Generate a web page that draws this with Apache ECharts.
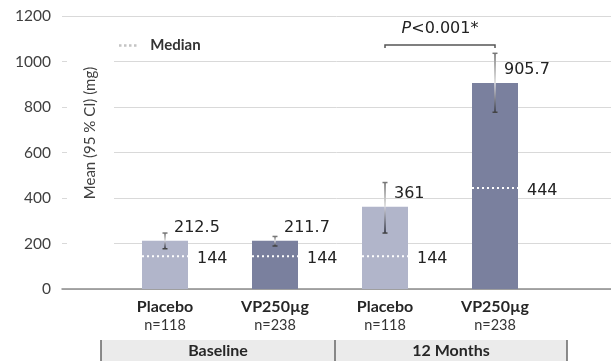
<!DOCTYPE html>
<html>
<head>
<meta charset="utf-8">
<script src="https://cdn.jsdelivr.net/npm/echarts@6/dist/echarts.min.js"></script>
<style>
  html, body { margin: 0; padding: 0; background: #fff; }
  #chart { width: 611px; height: 361px; }
</style>
</head>
<body>
<div id="chart"></div>
<script>
// Treatment arms, in plotting order
const groups = ['Placebo', 'VP250µg', 'Placebo', 'VP250µg'];
const sampleSizes = ['n=118', 'n=238', 'n=118', 'n=238'];
const periods = ['Baseline', '12 Months'];

// Mean with 95 % CI, and median (mg)
const means = [212.5, 211.7, 361, 905.7];
const ciLower = [177, 189, 246, 777];
const ciUpper = [246, 231, 468, 1036];
const medians = [144, 144, 144, 444];

// Value axis
const yMin = 0, yMax = 1200, yStep = 200;

// Comparison between the two 12-month arms
const comparison = { from: 2, to: 3, level: 1073, text: 'P<0.001*' };

const armColors = ['#b1b5ca', '#7a809e', '#b1b5ca', '#7a809e'];
const numFont = '"DejaVu Sans", sans-serif';
const txtFont = 'Lato, "Open Sans", sans-serif';
const BAR_W = 46;

const chart = echarts.init(document.getElementById('chart'));

const option = {
  animation: false,
  backgroundColor: '#fff',
  grid: [
    { left: 110, right: 61, top: 16, bottom: 72 },   // bars
    { left: 62, right: 0, top: 16, bottom: 72 }      // full-width frame
  ],
  legend: {
    left: 114, top: 33,
    itemWidth: 19, itemHeight: 2.5,
    textStyle: { fontFamily: txtFont, fontSize: 15, fontWeight: 'bold', color: '#333', padding: [0, 0, 0, 8] },
    data: [{
      name: 'Median',
      icon: 'path://M0,0h3v3h-3zM6,0h3v3h-3zM12,0h3v3h-3zM18,0h3v3h-3z',
      itemStyle: { color: '#c4c4c4' }
    }],
    selectedMode: false
  },
  xAxis: [
    {
      gridIndex: 0, type: 'category', data: groups,
      axisLine: { show: false }, axisTick: { show: false },
      axisLabel: {
        margin: 8,
        formatter: (v, i) => '{g|' + v + '}\n{n|' + sampleSizes[i] + '}',
        rich: {
          g: { fontFamily: txtFont, fontSize: 16, fontWeight: 'bold', color: '#262626', lineHeight: 19 },
          n: { fontFamily: txtFont, fontSize: 14.5, color: '#333', lineHeight: 19 }
        }
      }
    },
    {
      gridIndex: 1, type: 'value', min: 0, max: 1, show: true,
      axisLine: { show: true, lineStyle: { color: '#8c8c8c', width: 1.5 } },
      axisTick: { show: false }, axisLabel: { show: false }, splitLine: { show: false }
    }
  ],
  yAxis: [
    { gridIndex: 0, type: 'value', min: yMin, max: yMax, interval: yStep, show: false },
    {
      gridIndex: 1, type: 'value', min: yMin, max: yMax, interval: yStep,
      axisLine: { show: false }, axisTick: { show: false },
      axisLabel: { margin: 11, fontFamily: txtFont, fontSize: 15.5, color: '#404040', formatter: v => String(v) },
      splitLine: { lineStyle: { color: '#d9d9d9', width: 1 } }
    }
  ],
  graphic: [
    // break in the grid lines behind the axis title
    { type: 'rect', z: 1, shape: { x: 67, y: 52, width: 47, height: 200 }, style: { fill: '#fff' } },
    {
      type: 'text', z: 5, x: 90, y: 133, rotation: Math.PI / 2,
      style: { text: 'Mean (95 % CI) (mg)', fontFamily: txtFont, fontSize: 15, fill: '#404040',
               align: 'center', verticalAlign: 'middle' }
    },
    // period band under the category labels
    { type: 'rect', z: 1, shape: { x: 101, y: 340, width: 466, height: 21 }, style: { fill: '#ebebeb' } },
    { type: 'line', z: 2, shape: { x1: 101, y1: 340, x2: 101, y2: 361 }, style: { stroke: '#666', lineWidth: 1.5 } },
    { type: 'line', z: 2, shape: { x1: 335, y1: 340, x2: 335, y2: 361 }, style: { stroke: '#666', lineWidth: 1.5 } },
    { type: 'line', z: 2, shape: { x1: 567, y1: 340, x2: 567, y2: 361 }, style: { stroke: '#666', lineWidth: 1.5 } },
    {
      type: 'text', z: 3, x: 218, y: 351,
      style: { text: periods[0], fontFamily: txtFont, fontSize: 16, fontWeight: 'bold', fill: '#262626',
               align: 'center', verticalAlign: 'middle' }
    },
    {
      type: 'text', z: 3, x: 451, y: 351,
      style: { text: periods[1], fontFamily: txtFont, fontSize: 16, fontWeight: 'bold', fill: '#262626',
               align: 'center', verticalAlign: 'middle' }
    }
  ],
  series: [
    {
      name: 'Mean', type: 'bar', xAxisIndex: 0, yAxisIndex: 0, barWidth: BAR_W,
      data: means.map((v, i) => ({ value: v, itemStyle: { color: armColors[i] } })),
      label: {
        show: true, position: [32, -13], align: 'left', verticalAlign: 'middle',
        fontFamily: numFont, fontSize: 16, color: '#222',
        formatter: p => String(p.value)
      }
    },
    {
      name: 'CI', type: 'custom', xAxisIndex: 0, yAxisIndex: 0, z: 4,
      data: means.map((m, i) => [i, m, ciLower[i], ciUpper[i]]),
      renderItem(params, api) {
        const i = api.value(0);
        const pm = api.coord([i, api.value(1)]);
        const pl = api.coord([i, api.value(2)]);
        const pu = api.coord([i, api.value(3)]);
        const x = pm[0];
        const grad = (y1, y2, c1, c2) => ({
          type: 'linear', global: true, x: x, y: y1, x2: x, y2: y2,
          colorStops: [{ offset: 0, color: c1 }, { offset: 1, color: c2 }]
        });
        return {
          type: 'group',
          children: [
            { type: 'line', shape: { x1: x, y1: pu[1], x2: x, y2: pm[1] },
              style: { stroke: grad(pu[1], pm[1], '#8c8c8c', '#e4e4e4'), lineWidth: 2 } },
            { type: 'line', shape: { x1: x, y1: pm[1], x2: x, y2: pl[1] },
              style: { stroke: grad(pm[1], pl[1], '#c9cad6', '#454857'), lineWidth: 2 } },
            { type: 'line', shape: { x1: x - 2.5, y1: pu[1], x2: x + 2.5, y2: pu[1] },
              style: { stroke: '#777', lineWidth: 1.5 } },
            { type: 'line', shape: { x1: x - 2.5, y1: pl[1], x2: x + 2.5, y2: pl[1] },
              style: { stroke: '#444', lineWidth: 1.5 } }
          ]
        };
      }
    },
    {
      name: 'Median', type: 'custom', xAxisIndex: 0, yAxisIndex: 0, z: 3,
      itemStyle: { color: '#c4c4c4' },
      data: medians.map((m, i) => [i, m]),
      renderItem(params, api) {
        const p = api.coord([api.value(0), api.value(1)]);
        return {
          type: 'group',
          children: [
            { type: 'line', shape: { x1: p[0] - BAR_W / 2, y1: p[1], x2: p[0] + BAR_W / 2, y2: p[1] },
              style: { stroke: '#fff', lineWidth: 2, lineDash: [2, 3] } },
            { type: 'text', x: p[0] + BAR_W / 2 + 9, y: p[1] + 3,
              style: { text: String(api.value(1)), fontFamily: numFont, fontSize: 16, fill: '#222',
                       align: 'left', verticalAlign: 'middle' } }
          ]
        };
      }
    },
    {
      name: 'Comparison', type: 'custom', xAxisIndex: 0, yAxisIndex: 0, z: 4, silent: true,
      data: [[comparison.from, comparison.to, comparison.level]],
      renderItem(params, api) {
        const a = api.coord([api.value(0), api.value(2)]);
        const b = api.coord([api.value(1), api.value(2)]);
        const y = a[1];
        const parts = comparison.text.split('<');
        return {
          type: 'group',
          children: [
            { type: 'polyline',
              shape: { points: [[a[0], y + 3], [a[0], y], [b[0], y], [b[0], y + 3]] },
              style: { stroke: '#555', lineWidth: 1.5, fill: null } },
            { type: 'text', x: (a[0] + b[0]) / 2, y: y - 16,
              style: {
                text: '{i|' + parts[0] + '}{n|<' + parts[1] + '}',
                align: 'center', verticalAlign: 'middle',
                rich: {
                  i: { fontFamily: numFont, fontSize: 16, fontStyle: 'italic', fill: '#222' },
                  n: { fontFamily: numFont, fontSize: 16, fill: '#222' }
                }
              } }
          ]
        };
      }
    }
  ]
};

chart.setOption(option);
</script>
</body>
</html>
